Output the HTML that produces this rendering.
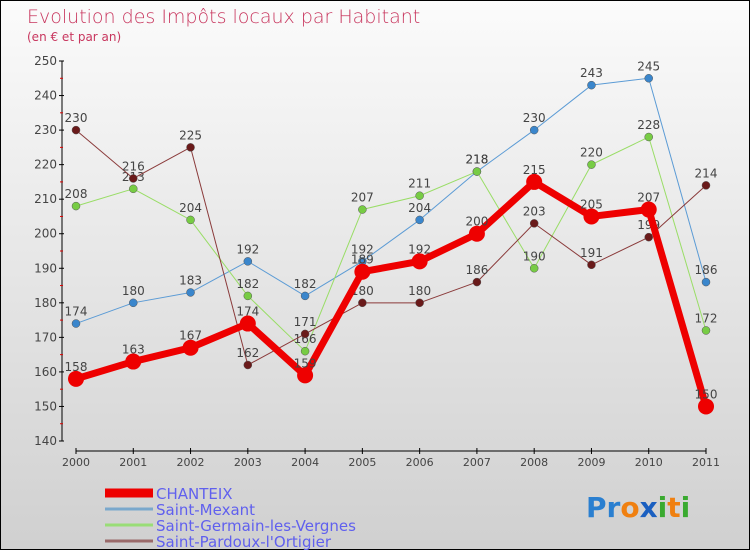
<!DOCTYPE html>
<html><head><meta charset="utf-8"><style>
body{margin:0;width:750px;height:550px;overflow:hidden}
#c{position:absolute;left:0;top:0;width:748px;height:548px;border:1px solid #000;background:linear-gradient(#fbfbfb,#d0d0d0);}
text{font-family:"DejaVu Sans","Liberation Sans",sans-serif;}
</style></head><body>
<div id="c">
<svg id="svg" width="750" height="550" xmlns="http://www.w3.org/2000/svg">
<text x="26" y="22" font-size="19" fill="#c8365e" font-weight="300">Evolution des Impôts locaux par Habitant</text>
<text x="26" y="40" font-size="12" fill="#c8365e">(en € et par an)</text>
<g id="axes"></g><g id="series"></g><g id="legend"></g>
<text x="585" y="516" font-size="28" font-weight="bold"><tspan fill="#2a7fd0">Pr</tspan><tspan fill="#f08010">o</tspan><tspan fill="#1a5fc0">x</tspan><tspan fill="#3aaa30">i</tspan><tspan fill="#f08010">t</tspan><tspan fill="#3aaa30">i</tspan></text>
</svg></div>
<script>
const years=["2000","2001","2002","2003","2004","2005","2006","2007","2008","2009","2010","2011"];
const yTicks=[140,150,160,170,180,190,200,210,220,230,240,250];
const seriesNames=["CHANTEIX","Saint-Mexant","Saint-Germain-les-Vergnes","Saint-Pardoux-l'Ortigier"];
const chanteix=[158,163,167,174,159,189,192,200,215,205,207,150];
const mexant=[174,180,183,192,182,192,204,218,230,243,245,186];
const germain=[208,213,204,182,166,207,211,218,190,220,228,172];
const pardoux=[230,216,225,162,171,180,180,186,203,191,199,214];
const NS="http://www.w3.org/2000/svg";
const X=i=>75+i*(630/11);
const Y=v=>60+(250-v)*(380/110);
function mk(t,a,p){const e=document.createElementNS(NS,t);for(const k in a)e.setAttribute(k,a[k]);p.appendChild(e);return e;}
const ax=document.getElementById('axes');
let l=mk('line',{x1:61,y1:60,x2:61,y2:440,stroke:'#000'},ax);


l=mk('line',{x1:75,y1:450,x2:705,y2:450,stroke:'#000'},ax);


yTicks.forEach(v=>{
 mk('line',{x1:58,x2:63,y1:Y(v),y2:Y(v),stroke:'#000'},ax);
 if(v<250) mk('line',{x1:59,x2:62,y1:Y(v+5),y2:Y(v+5),stroke:'#d00'},ax);
 const t=mk('text',{x:56,y:Y(v)+4,'font-size':12,'text-anchor':'end',fill:'#444'},ax);t.textContent=v;
 
 
});
years.forEach((y,i)=>{
 mk('line',{x1:X(i),x2:X(i),y1:447,y2:453,stroke:'#000'},ax);
 const t=mk('text',{x:X(i),y:465,'font-size':11,'text-anchor':'middle',fill:'#444'},ax);t.textContent=y;
 
 
});
const sg=document.getElementById('series');
const defs=[[mexant,'#5b9bd5','#3a86cc',1,4],[germain,'#99dd66','#77cc44',1,4],[pardoux,'#8a3a3a','#6a1a1a',1,4],[chanteix,'#ee0000','#ee0000',7,8]];
const names=['saint-mexant','saint-germain','saint-pardoux','chanteix'];
defs.forEach((d,k)=>{
 const [vals,lc,pc,w,r]=d;
 const g=mk('g',{},sg);
 
 
 const p=mk('polyline',{points:vals.map((v,i)=>X(i)+','+Y(v)).join(' '),fill:'none',stroke:lc,'stroke-width':w,'stroke-linejoin':'round'},g);
 
 
 vals.forEach((v,i)=>{
  const c=mk('circle',{cx:X(i),cy:Y(v),r:r,fill:pc,stroke:k==3?'none':'#555','stroke-width':0.5},g);
  
  
  const t=mk('text',{x:X(i),y:Y(v)-8,'font-size':12,'text-anchor':'middle',fill:'#444'},g);t.textContent=v;
  
  
 });
});
const lg=document.getElementById('legend');
const lcs=['#ee0000','#7aa8cc','#99dd77','#9a6a6a'],lw=[9,3,3,3];
seriesNames.forEach((n,k)=>{
 const y=492+k*16;
 const e=mk('line',{x1:104,x2:152,y1:y,y2:y,stroke:lcs[k],'stroke-width':lw[k]},lg);
 
 
 const t=mk('text',{x:155,y:y+6,'font-size':15,fill:'#6060ee'},lg);t.textContent=n;
 
 
});
</script>
</body></html>
